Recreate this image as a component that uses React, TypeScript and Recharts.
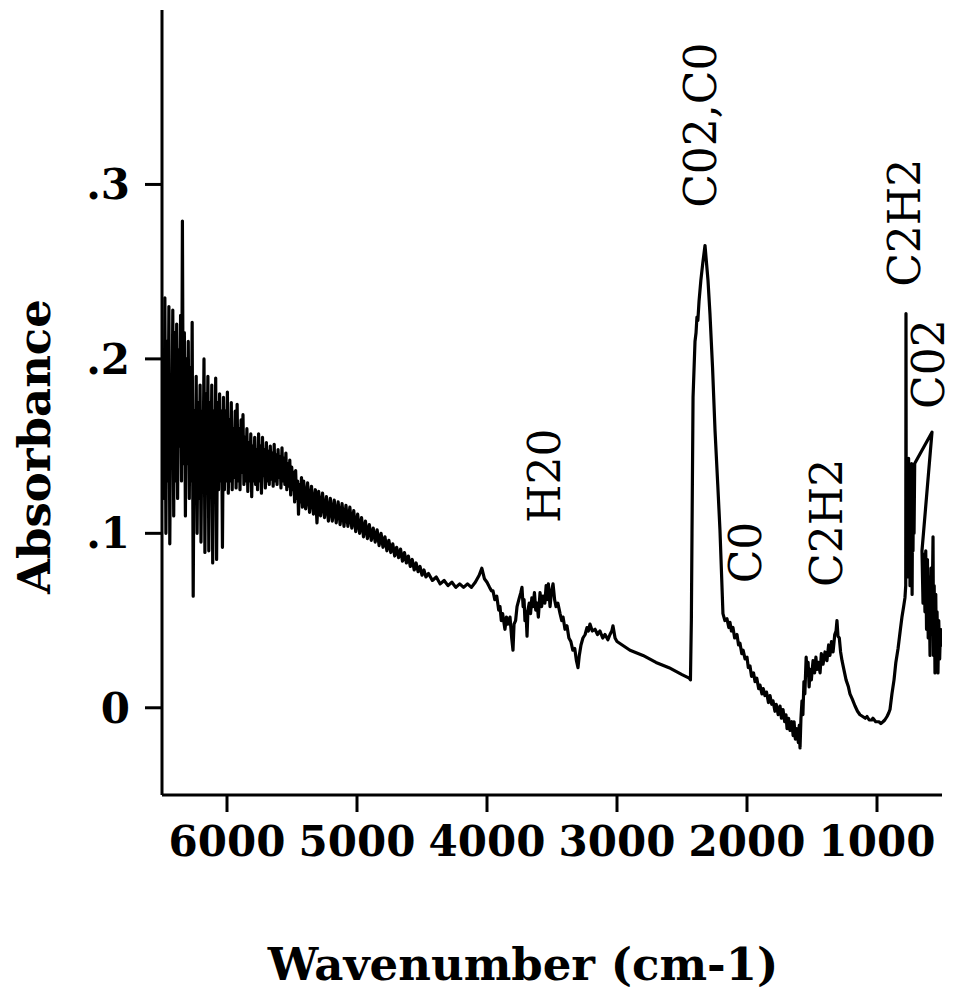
import React from "react";
import { LineChart, Line, XAxis, YAxis, ReferenceDot } from "recharts";

// [wavenumber cm-1, absorbance]
const overtoneRegion: [number, number][] = [
  [6500, 0.16], [6492, 0.205], [6485, 0.12], [6478, 0.235], [6470, 0.1], [6462, 0.21], [6455, 0.13],
  [6447, 0.23], [6440, 0.094], [6432, 0.19], [6425, 0.14], [6417, 0.228], [6410, 0.11], [6402, 0.215],
  [6395, 0.13], [6387, 0.22], [6380, 0.12], [6372, 0.205], [6365, 0.15], [6357, 0.225], [6350, 0.13],
  [6343, 0.279], [6336, 0.14], [6328, 0.215], [6320, 0.11], [6313, 0.2], [6305, 0.14], [6298, 0.21],
  [6290, 0.12], [6283, 0.195], [6275, 0.13], [6268, 0.221], [6260, 0.064], [6252, 0.17], [6245, 0.125],
  [6237, 0.19], [6230, 0.1], [6222, 0.175], [6215, 0.12], [6207, 0.185], [6200, 0.095], [6192, 0.17],
  [6185, 0.13], [6177, 0.2], [6170, 0.089], [6162, 0.18], [6155, 0.125], [6147, 0.19], [6140, 0.09],
  [6132, 0.175], [6125, 0.13], [6117, 0.185], [6110, 0.083], [6102, 0.17], [6095, 0.12], [6087, 0.189],
  [6080, 0.085], [6072, 0.175], [6065, 0.125], [6057, 0.18], [6050, 0.13], [6042, 0.17], [6035, 0.092],
  [6027, 0.178], [6020, 0.125], [6012, 0.17], [6005, 0.13], [5997, 0.181], [5990, 0.123], [5982, 0.165],
  [5975, 0.13], [5967, 0.175], [5960, 0.125], [5952, 0.16], [5945, 0.132], [5937, 0.17], [5930, 0.126],
  [5922, 0.174], [5915, 0.13], [5907, 0.16], [5900, 0.125], [5892, 0.165], [5885, 0.135], [5877, 0.168],
  [5870, 0.128], [5862, 0.155], [5855, 0.13], [5847, 0.16], [5840, 0.124], [5832, 0.152], [5825, 0.13],
  [5817, 0.157], [5810, 0.121], [5802, 0.15], [5795, 0.13], [5787, 0.155], [5780, 0.128], [5772, 0.148],
  [5765, 0.125], [5757, 0.157], [5750, 0.13], [5742, 0.15], [5735, 0.123], [5727, 0.155], [5720, 0.133],
  [5712, 0.148], [5705, 0.126], [5697, 0.152], [5690, 0.13], [5682, 0.147], [5675, 0.128], [5667, 0.15],
  [5660, 0.131], [5652, 0.146], [5645, 0.127], [5637, 0.151], [5630, 0.13], [5622, 0.145], [5615, 0.128],
  [5607, 0.148], [5600, 0.132], [5592, 0.144], [5585, 0.126], [5577, 0.149], [5570, 0.13], [5562, 0.143],
  [5555, 0.128], [5547, 0.146], [5540, 0.125], [5532, 0.14], [5525, 0.127], [5517, 0.142], [5510, 0.122],
  [5502, 0.138], [5495, 0.125], [5487, 0.135], [5480, 0.118], [5472, 0.136], [5465, 0.12], [5457, 0.13],
  [5450, 0.111], [5442, 0.128], [5435, 0.118], [5427, 0.132], [5420, 0.115],
];

const slopeRegion: [number, number][] = [
  [5410, 0.13], [5395, 0.114], [5380, 0.129], [5365, 0.112], [5350, 0.127], [5335, 0.111], [5320, 0.125],
  [5308, 0.106], [5295, 0.124], [5280, 0.11], [5265, 0.123], [5250, 0.109], [5235, 0.121], [5220, 0.107],
  [5205, 0.12], [5190, 0.107], [5175, 0.119], [5160, 0.106], [5145, 0.118], [5130, 0.105], [5115, 0.117],
  [5100, 0.104], [5085, 0.116], [5070, 0.104], [5055, 0.115], [5040, 0.103], [5025, 0.113], [5010, 0.101],
  [4995, 0.111], [4980, 0.1], [4965, 0.109], [4950, 0.098], [4935, 0.107], [4920, 0.097], [4905, 0.105],
  [4890, 0.096], [4875, 0.103], [4860, 0.095], [4845, 0.102], [4830, 0.093], [4815, 0.1], [4800, 0.092],
  [4785, 0.098], [4770, 0.09], [4755, 0.096], [4740, 0.089], [4725, 0.094], [4710, 0.087], [4695, 0.092],
  [4680, 0.086], [4665, 0.091], [4650, 0.084], [4635, 0.089], [4620, 0.083], [4605, 0.087], [4590, 0.081],
  [4575, 0.085], [4560, 0.079], [4545, 0.083], [4530, 0.078], [4515, 0.081], [4500, 0.076], [4485, 0.079],
  [4470, 0.075], [4450, 0.077], [4420, 0.073], [4390, 0.075], [4360, 0.071], [4330, 0.073], [4300, 0.07],
  [4270, 0.072], [4240, 0.069], [4210, 0.071], [4180, 0.069], [4150, 0.071], [4120, 0.069], [4090, 0.072],
  [4060, 0.076], [4040, 0.08], [4020, 0.074], [4000, 0.072], [3980, 0.069], [3965, 0.067],
];

const waterRegion: [number, number][] = [
  [3954, 0.067], [3940, 0.062], [3925, 0.064], [3910, 0.056], [3900, 0.058], [3890, 0.05], [3880, 0.054],
  [3862, 0.045], [3850, 0.052], [3838, 0.048], [3823, 0.052], [3810, 0.04], [3800, 0.033], [3792, 0.048],
  [3780, 0.05], [3769, 0.058], [3755, 0.062], [3740, 0.066], [3731, 0.069], [3722, 0.058], [3715, 0.062],
  [3708, 0.05], [3700, 0.055], [3692, 0.041], [3685, 0.056], [3675, 0.06], [3665, 0.054], [3655, 0.063],
  [3646, 0.058], [3635, 0.066], [3625, 0.056], [3615, 0.06], [3605, 0.052], [3592, 0.066], [3580, 0.058],
  [3569, 0.064], [3555, 0.06], [3545, 0.07], [3538, 0.062], [3528, 0.071], [3515, 0.058], [3505, 0.066],
  [3492, 0.071], [3480, 0.062], [3469, 0.058], [3455, 0.06], [3438, 0.054], [3425, 0.05], [3415, 0.052],
  [3400, 0.045], [3385, 0.047], [3370, 0.04], [3355, 0.038], [3340, 0.033], [3325, 0.034], [3312, 0.027],
  [3300, 0.023], [3290, 0.03], [3277, 0.036], [3262, 0.04], [3245, 0.042], [3231, 0.046], [3220, 0.044],
  [3208, 0.048], [3190, 0.044], [3169, 0.045], [3150, 0.042], [3131, 0.044], [3110, 0.04], [3092, 0.042],
  [3070, 0.039], [3054, 0.042], [3040, 0.044], [3031, 0.047], [3015, 0.04], [3000, 0.038], [2960, 0.036],
  [2900, 0.033], [2800, 0.03], [2700, 0.026], [2600, 0.023], [2500, 0.019], [2445, 0.017], [2435, 0.016],
];

const co2Region: [number, number][] = [
  [2428, 0.05], [2423, 0.1], [2415, 0.178], [2400, 0.21], [2392, 0.215], [2385, 0.224], [2378, 0.222],
  [2369, 0.233], [2355, 0.245], [2340, 0.255], [2323, 0.265], [2315, 0.258], [2300, 0.245], [2285, 0.226],
  [2265, 0.195], [2246, 0.159], [2225, 0.128], [2208, 0.102], [2195, 0.075], [2185, 0.054], [2170, 0.05],
  [2154, 0.051], [2140, 0.046], [2131, 0.049], [2120, 0.044], [2108, 0.046], [2095, 0.04], [2077, 0.042],
  [2065, 0.036], [2054, 0.037], [2040, 0.031], [2030, 0.033], [2015, 0.028], [2000, 0.029], [1990, 0.023],
  [1977, 0.024], [1965, 0.018], [1950, 0.02], [1938, 0.015], [1925, 0.017], [1910, 0.011], [1900, 0.013],
  [1885, 0.008], [1875, 0.011], [1862, 0.007], [1850, 0.009], [1835, 0.003], [1823, 0.007], [1810, 0.002],
  [1800, 0.004], [1785, -0.002], [1775, 0.002], [1760, -0.004], [1746, 0.001], [1735, -0.006], [1723, -0.001],
  [1710, -0.008], [1700, -0.004], [1692, -0.012], [1680, -0.006], [1669, -0.013], [1655, -0.008], [1645, -0.016],
  [1638, -0.008], [1628, -0.018], [1615, -0.012], [1605, -0.02], [1598, -0.01], [1592, -0.023], [1585, -0.006],
  [1577, 0.004], [1570, -0.004], [1562, 0.015], [1555, 0.008], [1545, 0.029],
];

const fingerprintRegion: [number, number][] = [
  [1538, 0.02], [1530, 0.026], [1522, 0.012], [1515, 0.022], [1505, 0.016], [1492, 0.027], [1480, 0.02],
  [1470, 0.029], [1462, 0.022], [1450, 0.026], [1438, 0.02], [1428, 0.031], [1415, 0.025], [1400, 0.032],
  [1385, 0.027], [1372, 0.036], [1362, 0.03], [1350, 0.038], [1338, 0.032], [1325, 0.042], [1315, 0.044],
  [1308, 0.05], [1300, 0.041], [1290, 0.04], [1280, 0.032], [1269, 0.027], [1255, 0.022], [1238, 0.016],
  [1220, 0.012], [1208, 0.008], [1190, 0.005], [1169, 0.001], [1150, -0.002], [1131, -0.004], [1110, -0.005],
  [1090, -0.006], [1077, -0.005], [1060, -0.007], [1040, -0.007], [1031, -0.006], [1010, -0.008], [985, -0.008],
  [970, -0.009], [954, -0.008], [940, -0.007], [923, -0.005], [910, -0.003], [900, -0.001], [885, 0.008],
  [869, 0.016], [855, 0.026], [838, 0.034], [820, 0.045], [808, 0.052], [795, 0.058], [785, 0.063],
  [779, 0.07], [777, 0.226], [775, 0.1], [771, 0.14], [768, 0.085], [764, 0.135], [760, 0.075], [757, 0.143],
  [753, 0.09], [750, 0.128], [746, 0.07], [742, 0.12], [738, 0.085], [734, 0.14], [730, 0.065], [727, 0.112],
  [723, 0.09], [719, 0.132], [715, 0.1], [710, 0.14], [577, 0.158], [654, 0.09], [646, 0.06], [639, 0.088],
  [631, 0.055], [625, 0.09], [619, 0.045], [612, 0.085], [606, 0.04], [600, 0.075], [592, 0.03], [585, 0.08],
  [577, 0.05], [569, 0.098], [565, 0.03], [560, 0.07], [554, 0.02], [548, 0.065], [542, 0.025], [538, 0.055],
  [531, 0.02], [525, 0.05], [518, 0.028], [512, 0.045], [506, 0.035],
];

const xTicks = [6000, 5000, 4000, 3000, 2000, 1000];
const yTicks = [0, 0.1, 0.2, 0.3];

const bandLabels: { text: string; wavenumber: number; absorbance: number }[] = [
  { text: "C02,C0", wavenumber: 2354, absorbance: 0.334 },
  { text: "C2H2", wavenumber: 792, absorbance: 0.278 },
  { text: "C02", wavenumber: 605, absorbance: 0.197 },
  { text: "H20", wavenumber: 3554, absorbance: 0.133 },
  { text: "C0", wavenumber: 2015, absorbance: 0.089 },
  { text: "C2H2", wavenumber: 1385, absorbance: 0.106 },
];

const spectrum = [...overtoneRegion, ...slopeRegion, ...waterRegion, ...co2Region, ...fingerprintRegion].map(
  ([w, a]) => ({ w, a })
);

const serif = '"DejaVu Serif", serif';
const tickStyle = { fontFamily: serif, fontWeight: 700, fontSize: 42, fill: "#000" };
const titleStyle: React.CSSProperties = { fontFamily: serif, fontWeight: 700, fontSize: 45, fill: "#000" };

const XTitle = ({ viewBox }: any) => (
  <text x={viewBox.x + viewBox.width / 2 - 29} y={viewBox.y + 185} textAnchor="middle" style={titleStyle}>
    Wavenumber (cm-1)
  </text>
);

const YTitle = ({ viewBox }: any) => {
  const x = viewBox.x + 50;
  const y = viewBox.y + viewBox.height / 2 + 44;
  return (
    <text x={x} y={y} transform={`rotate(-90 ${x} ${y})`} textAnchor="middle" style={titleStyle}>
      Absorbance
    </text>
  );
};

const BandLabel = ({ viewBox, text }: any) => {
  const x = viewBox.x + (viewBox.width ?? 0) / 2;
  const y = viewBox.y + (viewBox.height ?? 0) / 2;
  return (
    <text
      x={x}
      y={y}
      transform={`rotate(-90 ${x} ${y})`}
      textAnchor="middle"
      dominantBaseline="central"
      style={{ fontFamily: serif, fontSize: 44, fill: "#000" }}
    >
      {text}
    </text>
  );
};

const formatAbs = (v: number) => (v === 0 ? "0" : `.${Math.round(v * 10)}`);

export default function App() {
  return (
    <div style={{ position: "absolute", left: 0, top: 0, background: "#fff" }}>
      <LineChart width={953} height={990} data={spectrum} margin={{ top: 10, right: 11, bottom: 0, left: 0 }}>
        <XAxis
          dataKey="w"
          type="number"
          domain={[500, 6500]}
          reversed
          allowDataOverflow
          ticks={xTicks}
          interval={0}
          height={195}
          tickSize={17}
          tickMargin={14}
          tick={tickStyle}
          tickLine={{ stroke: "#000", strokeWidth: 3 }}
          axisLine={{ stroke: "#000", strokeWidth: 3 }}
          label={<XTitle />}
        />
        <YAxis
          type="number"
          domain={[-0.05, 0.4]}
          allowDataOverflow
          ticks={yTicks}
          interval={0}
          width={162}
          tickSize={17}
          tickMargin={15}
          tick={tickStyle}
          tickFormatter={formatAbs}
          tickLine={{ stroke: "#000", strokeWidth: 3 }}
          axisLine={{ stroke: "#000", strokeWidth: 3 }}
          label={<YTitle />}
        />
        <Line
          dataKey="a"
          type="linear"
          stroke="#000"
          strokeWidth={3.2}
          strokeLinejoin="round"
          dot={false}
          isAnimationActive={false}
        />
        {bandLabels.map((b, i) => (
          <ReferenceDot
            key={i}
            x={b.wavenumber}
            y={b.absorbance}
            r={1}
            fill="none"
            stroke="none"
            label={<BandLabel text={b.text} />}
          />
        ))}
      </LineChart>
    </div>
  );
}
